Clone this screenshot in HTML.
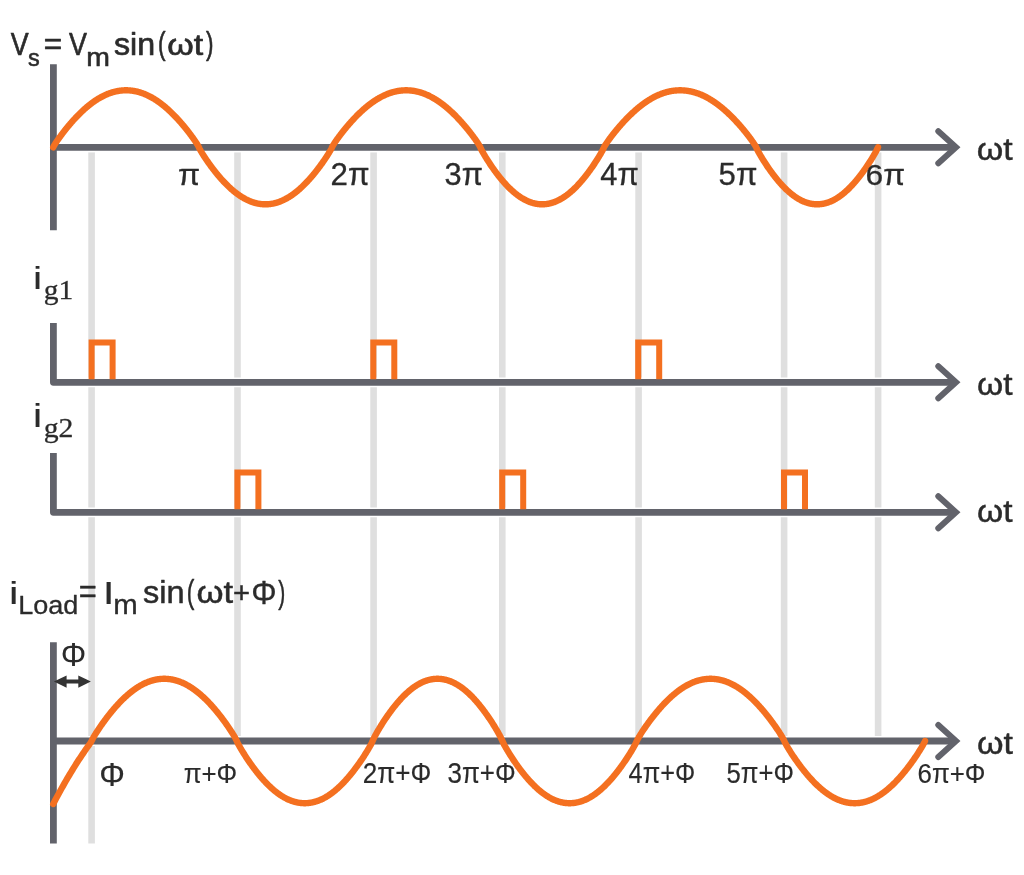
<!DOCTYPE html><html><head><meta charset="utf-8"><style>html,body{margin:0;padding:0;background:#fff;width:1024px;height:875px;overflow:hidden}svg{display:block;will-change:transform}</style></head><body>
<svg width="1024" height="875" viewBox="0 0 1024 875">
<rect width="1024" height="875" fill="#fff"/>
<g stroke="#dfdfdf" stroke-width="6.6"><line x1="91.6" y1="152.2" x2="91.6" y2="843.5"/><line x1="237.5" y1="152.2" x2="237.5" y2="741"/><line x1="373.6" y1="152.2" x2="373.6" y2="741"/><line x1="502.3" y1="152.2" x2="502.3" y2="741"/><line x1="638.6" y1="152.2" x2="638.6" y2="741"/><line x1="784.1" y1="152.2" x2="784.1" y2="741"/><line x1="878.1" y1="152.2" x2="878.1" y2="741"/></g>
<path d="M53.4,64.2 V230.3 M53.4,147.3 H956 M53.4,323 V382.3 H956 M53.4,453 V512.3 H956 M53.4,642.2 V843.5 M53.4,741.0 H956" fill="none" stroke="#fff" stroke-width="9.8" stroke-linejoin="miter"/>
<path d="M53.4,64.2 V230.3 M53.4,147.3 H956 M53.4,323 V382.3 H956 M53.4,453 V512.3 H956 M53.4,642.2 V843.5 M53.4,741.0 H956" fill="none" stroke="#62636b" stroke-width="6.8" stroke-linejoin="round"/>
<path d="M938.3,131.3 L956.0,147.3 L938.3,163.3 M938.3,366.3 L956.0,382.3 L938.3,398.3 M938.3,496.29999999999995 L956.0,512.3 L938.3,528.3 M938.3,725.0 L956.0,741.0 L938.3,757.0" fill="none" stroke="#62636b" stroke-width="6.0" stroke-linecap="round" stroke-linejoin="miter"/>
<path d="M53.20,147.30 L53.70,146.29 L54.20,145.42 L54.70,144.59 L55.20,143.79 L55.69,143.01 L56.19,142.24 L56.69,141.49 L57.19,140.76 L57.69,140.03 L58.19,139.31 L58.69,138.60 L59.19,137.90 L59.69,137.20 L60.19,136.51 L60.68,135.83 L61.18,135.15 L61.68,134.48 L62.18,133.82 L62.68,133.16 L63.18,132.51 L63.68,131.86 L64.18,131.22 L64.68,130.58 L65.18,129.95 L65.67,129.32 L66.17,128.70 L66.67,128.08 L67.17,127.47 L67.67,126.86 L68.17,126.26 L68.67,125.66 L69.17,125.07 L69.67,124.48 L70.17,123.89 L70.66,123.31 L71.16,122.74 L71.66,122.17 L72.16,121.60 L72.66,121.04 L73.16,120.48 L73.66,119.93 L74.16,119.38 L74.66,118.84 L75.15,118.30 L75.65,117.77 L76.15,117.24 L76.65,116.72 L77.15,116.20 L77.65,115.68 L78.15,115.17 L78.65,114.67 L79.15,114.17 L79.65,113.67 L80.14,113.18 L80.64,112.69 L81.14,112.21 L81.64,111.74 L82.14,111.27 L82.64,110.80 L83.14,110.34 L83.64,109.88 L84.14,109.43 L84.64,108.98 L85.13,108.54 L85.63,108.10 L86.13,107.67 L86.63,107.24 L87.13,106.82 L87.63,106.41 L88.13,105.99 L88.63,105.59 L89.13,105.18 L89.62,104.79 L90.12,104.40 L90.62,104.01 L91.12,103.63 L91.62,103.25 L92.12,102.88 L92.62,102.52 L93.12,102.16 L93.62,101.80 L94.12,101.45 L94.61,101.11 L95.11,100.77 L95.61,100.43 L96.11,100.10 L96.61,99.78 L97.11,99.46 L97.61,99.15 L98.11,98.84 L98.61,98.54 L99.11,98.24 L99.60,97.95 L100.10,97.66 L100.60,97.38 L101.10,97.11 L101.60,96.84 L102.10,96.57 L102.60,96.31 L103.10,96.06 L103.60,95.81 L104.10,95.57 L104.59,95.33 L105.09,95.10 L105.59,94.87 L106.09,94.65 L106.59,94.44 L107.09,94.23 L107.59,94.02 L108.09,93.82 L108.59,93.63 L109.08,93.44 L109.58,93.26 L110.08,93.08 L110.58,92.91 L111.08,92.74 L111.58,92.58 L112.08,92.43 L112.58,92.28 L113.08,92.13 L113.58,91.99 L114.07,91.86 L114.57,91.73 L115.07,91.61 L115.57,91.49 L116.07,91.38 L116.57,91.28 L117.07,91.17 L117.57,91.08 L118.07,90.99 L118.57,90.91 L119.06,90.83 L119.56,90.76 L120.06,90.69 L120.56,90.63 L121.06,90.57 L121.56,90.52 L122.06,90.47 L122.56,90.43 L123.06,90.40 L123.56,90.37 L124.05,90.34 L124.55,90.32 L125.05,90.31 L125.55,90.30 L126.05,90.30 L126.55,90.30 L127.05,90.31 L127.55,90.32 L128.05,90.34 L128.54,90.37 L129.04,90.40 L129.54,90.43 L130.04,90.47 L130.54,90.52 L131.04,90.57 L131.54,90.63 L132.04,90.69 L132.54,90.76 L133.04,90.83 L133.53,90.91 L134.03,90.99 L134.53,91.08 L135.03,91.17 L135.53,91.28 L136.03,91.38 L136.53,91.49 L137.03,91.61 L137.53,91.73 L138.03,91.86 L138.52,91.99 L139.02,92.13 L139.52,92.28 L140.02,92.43 L140.52,92.58 L141.02,92.74 L141.52,92.91 L142.02,93.08 L142.52,93.26 L143.02,93.44 L143.51,93.63 L144.01,93.82 L144.51,94.02 L145.01,94.23 L145.51,94.44 L146.01,94.65 L146.51,94.87 L147.01,95.10 L147.51,95.33 L148.00,95.57 L148.50,95.81 L149.00,96.06 L149.50,96.31 L150.00,96.57 L150.50,96.84 L151.00,97.11 L151.50,97.38 L152.00,97.66 L152.50,97.95 L152.99,98.24 L153.49,98.54 L153.99,98.84 L154.49,99.15 L154.99,99.46 L155.49,99.78 L155.99,100.10 L156.49,100.43 L156.99,100.77 L157.49,101.11 L157.98,101.45 L158.48,101.80 L158.98,102.16 L159.48,102.52 L159.98,102.88 L160.48,103.25 L160.98,103.63 L161.48,104.01 L161.98,104.40 L162.47,104.79 L162.97,105.18 L163.47,105.59 L163.97,105.99 L164.47,106.41 L164.97,106.82 L165.47,107.24 L165.97,107.67 L166.47,108.10 L166.97,108.54 L167.46,108.98 L167.96,109.43 L168.46,109.88 L168.96,110.34 L169.46,110.80 L169.96,111.27 L170.46,111.74 L170.96,112.21 L171.46,112.69 L171.96,113.18 L172.45,113.67 L172.95,114.17 L173.45,114.67 L173.95,115.17 L174.45,115.68 L174.95,116.20 L175.45,116.72 L175.95,117.24 L176.45,117.77 L176.95,118.30 L177.44,118.84 L177.94,119.38 L178.44,119.93 L178.94,120.48 L179.44,121.04 L179.94,121.60 L180.44,122.17 L180.94,122.74 L181.44,123.31 L181.93,123.89 L182.43,124.48 L182.93,125.07 L183.43,125.66 L183.93,126.26 L184.43,126.86 L184.93,127.47 L185.43,128.08 L185.93,128.70 L186.43,129.32 L186.92,129.95 L187.42,130.58 L187.92,131.22 L188.42,131.86 L188.92,132.51 L189.42,133.16 L189.92,133.82 L190.42,134.48 L190.92,135.15 L191.42,135.83 L191.91,136.51 L192.41,137.20 L192.91,137.90 L193.41,138.60 L193.91,139.31 L194.41,140.03 L194.91,140.76 L195.41,141.49 L195.91,142.24 L196.41,143.01 L196.90,143.79 L197.40,144.59 L197.90,145.42 L198.40,146.29 L198.90,147.30 L199.40,148.39 L199.90,149.34 L200.40,150.24 L200.89,151.11 L201.39,151.95 L201.89,152.78 L202.39,153.59 L202.89,154.39 L203.39,155.18 L203.89,155.96 L204.38,156.73 L204.88,157.49 L205.38,158.24 L205.88,158.98 L206.38,159.72 L206.88,160.45 L207.37,161.17 L207.87,161.89 L208.37,162.60 L208.87,163.30 L209.37,164.00 L209.87,164.69 L210.37,165.37 L210.86,166.05 L211.36,166.73 L211.86,167.40 L212.36,168.06 L212.86,168.71 L213.36,169.37 L213.86,170.01 L214.35,170.65 L214.85,171.29 L215.35,171.91 L215.85,172.54 L216.35,173.16 L216.85,173.77 L217.34,174.37 L217.84,174.98 L218.34,175.57 L218.84,176.16 L219.34,176.75 L219.84,177.32 L220.34,177.90 L220.83,178.47 L221.33,179.03 L221.83,179.58 L222.33,180.13 L222.83,180.68 L223.33,181.22 L223.83,181.75 L224.32,182.28 L224.82,182.80 L225.32,183.32 L225.82,183.83 L226.32,184.33 L226.82,184.83 L227.31,185.32 L227.81,185.81 L228.31,186.29 L228.81,186.76 L229.31,187.23 L229.81,187.70 L230.31,188.15 L230.80,188.60 L231.30,189.05 L231.80,189.49 L232.30,189.92 L232.80,190.35 L233.30,190.77 L233.80,191.18 L234.29,191.59 L234.79,191.99 L235.29,192.38 L235.79,192.77 L236.29,193.16 L236.79,193.53 L237.28,193.90 L237.78,194.27 L238.28,194.63 L238.78,194.98 L239.28,195.32 L239.78,195.66 L240.28,195.99 L240.77,196.32 L241.27,196.64 L241.77,196.95 L242.27,197.26 L242.77,197.56 L243.27,197.85 L243.77,198.14 L244.26,198.42 L244.76,198.69 L245.26,198.96 L245.76,199.22 L246.26,199.48 L246.76,199.73 L247.25,199.97 L247.75,200.20 L248.25,200.43 L248.75,200.65 L249.25,200.87 L249.75,201.08 L250.25,201.28 L250.74,201.47 L251.24,201.66 L251.74,201.85 L252.24,202.02 L252.74,202.19 L253.24,202.35 L253.74,202.51 L254.23,202.66 L254.73,202.80 L255.23,202.94 L255.73,203.07 L256.23,203.19 L256.73,203.31 L257.22,203.42 L257.72,203.52 L258.22,203.62 L258.72,203.71 L259.22,203.80 L259.72,203.87 L260.22,203.95 L260.71,204.01 L261.21,204.07 L261.71,204.12 L262.21,204.16 L262.71,204.20 L263.21,204.24 L263.71,204.26 L264.20,204.28 L264.70,204.29 L265.20,204.30 L265.70,204.30 L266.20,204.29 L266.70,204.28 L267.19,204.26 L267.69,204.24 L268.19,204.20 L268.69,204.16 L269.19,204.12 L269.69,204.07 L270.19,204.01 L270.68,203.95 L271.18,203.87 L271.68,203.80 L272.18,203.71 L272.68,203.62 L273.18,203.52 L273.68,203.42 L274.17,203.31 L274.67,203.19 L275.17,203.07 L275.67,202.94 L276.17,202.80 L276.67,202.66 L277.16,202.51 L277.66,202.35 L278.16,202.19 L278.66,202.02 L279.16,201.85 L279.66,201.66 L280.16,201.47 L280.65,201.28 L281.15,201.08 L281.65,200.87 L282.15,200.65 L282.65,200.43 L283.15,200.20 L283.65,199.97 L284.14,199.73 L284.64,199.48 L285.14,199.22 L285.64,198.96 L286.14,198.69 L286.64,198.42 L287.13,198.14 L287.63,197.85 L288.13,197.56 L288.63,197.26 L289.13,196.95 L289.63,196.64 L290.13,196.32 L290.62,195.99 L291.12,195.66 L291.62,195.32 L292.12,194.98 L292.62,194.63 L293.12,194.27 L293.62,193.90 L294.11,193.53 L294.61,193.16 L295.11,192.77 L295.61,192.38 L296.11,191.99 L296.61,191.59 L297.10,191.18 L297.60,190.77 L298.10,190.35 L298.60,189.92 L299.10,189.49 L299.60,189.05 L300.10,188.60 L300.59,188.15 L301.09,187.70 L301.59,187.23 L302.09,186.76 L302.59,186.29 L303.09,185.81 L303.59,185.32 L304.08,184.83 L304.58,184.33 L305.08,183.83 L305.58,183.32 L306.08,182.80 L306.58,182.28 L307.07,181.75 L307.57,181.22 L308.07,180.68 L308.57,180.13 L309.07,179.58 L309.57,179.03 L310.07,178.47 L310.56,177.90 L311.06,177.32 L311.56,176.75 L312.06,176.16 L312.56,175.57 L313.06,174.98 L313.56,174.37 L314.05,173.77 L314.55,173.16 L315.05,172.54 L315.55,171.91 L316.05,171.29 L316.55,170.65 L317.04,170.01 L317.54,169.37 L318.04,168.71 L318.54,168.06 L319.04,167.40 L319.54,166.73 L320.04,166.05 L320.53,165.37 L321.03,164.69 L321.53,164.00 L322.03,163.30 L322.53,162.60 L323.03,161.89 L323.53,161.17 L324.02,160.45 L324.52,159.72 L325.02,158.98 L325.52,158.24 L326.02,157.49 L326.52,156.73 L327.01,155.96 L327.51,155.18 L328.01,154.39 L328.51,153.59 L329.01,152.78 L329.51,151.95 L330.01,151.11 L330.50,150.24 L331.00,149.34 L331.50,148.39 L332.00,147.30 L332.50,146.31 L333.00,145.45 L333.50,144.63 L334.00,143.84 L334.50,143.07 L335.00,142.32 L335.50,141.58 L335.99,140.85 L336.49,140.14 L336.99,139.43 L337.49,138.73 L337.99,138.04 L338.49,137.35 L338.99,136.67 L339.49,136.00 L339.99,135.34 L340.49,134.68 L340.99,134.02 L341.49,133.37 L341.99,132.73 L342.49,132.09 L342.99,131.46 L343.48,130.83 L343.98,130.20 L344.48,129.59 L344.98,128.97 L345.48,128.36 L345.98,127.76 L346.48,127.16 L346.98,126.56 L347.48,125.97 L347.98,125.38 L348.48,124.80 L348.98,124.23 L349.48,123.65 L349.98,123.08 L350.48,122.52 L350.97,121.96 L351.47,121.41 L351.97,120.86 L352.47,120.31 L352.97,119.77 L353.47,119.23 L353.97,118.70 L354.47,118.17 L354.97,117.65 L355.47,117.13 L355.97,116.62 L356.47,116.11 L356.97,115.60 L357.47,115.10 L357.96,114.60 L358.46,114.11 L358.96,113.63 L359.46,113.14 L359.96,112.67 L360.46,112.19 L360.96,111.73 L361.46,111.26 L361.96,110.80 L362.46,110.35 L362.96,109.90 L363.46,109.46 L363.96,109.02 L364.46,108.58 L364.96,108.15 L365.45,107.73 L365.95,107.31 L366.45,106.89 L366.95,106.48 L367.45,106.07 L367.95,105.67 L368.45,105.28 L368.95,104.89 L369.45,104.50 L369.95,104.12 L370.45,103.74 L370.95,103.37 L371.45,103.00 L371.95,102.64 L372.45,102.29 L372.94,101.94 L373.44,101.59 L373.94,101.25 L374.44,100.91 L374.94,100.58 L375.44,100.26 L375.94,99.93 L376.44,99.62 L376.94,99.31 L377.44,99.00 L377.94,98.70 L378.44,98.41 L378.94,98.12 L379.44,97.83 L379.94,97.56 L380.43,97.28 L380.93,97.01 L381.43,96.75 L381.93,96.49 L382.43,96.24 L382.93,95.99 L383.43,95.75 L383.93,95.51 L384.43,95.28 L384.93,95.05 L385.43,94.83 L385.93,94.61 L386.43,94.40 L386.93,94.19 L387.43,93.99 L387.92,93.80 L388.42,93.61 L388.92,93.42 L389.42,93.24 L389.92,93.07 L390.42,92.90 L390.92,92.74 L391.42,92.58 L391.92,92.43 L392.42,92.28 L392.92,92.14 L393.42,92.00 L393.92,91.87 L394.42,91.74 L394.92,91.62 L395.41,91.51 L395.91,91.40 L396.41,91.29 L396.91,91.19 L397.41,91.10 L397.91,91.01 L398.41,90.93 L398.91,90.85 L399.41,90.77 L399.91,90.71 L400.41,90.64 L400.91,90.59 L401.41,90.53 L401.91,90.49 L402.41,90.45 L402.90,90.41 L403.40,90.38 L403.90,90.35 L404.40,90.33 L404.90,90.32 L405.40,90.31 L405.90,90.30 L406.40,90.30 L406.90,90.31 L407.40,90.32 L407.90,90.33 L408.40,90.35 L408.90,90.38 L409.40,90.41 L409.89,90.45 L410.39,90.49 L410.89,90.53 L411.39,90.59 L411.89,90.64 L412.39,90.71 L412.89,90.77 L413.39,90.85 L413.89,90.93 L414.39,91.01 L414.89,91.10 L415.39,91.19 L415.89,91.29 L416.39,91.40 L416.89,91.51 L417.38,91.62 L417.88,91.74 L418.38,91.87 L418.88,92.00 L419.38,92.14 L419.88,92.28 L420.38,92.43 L420.88,92.58 L421.38,92.74 L421.88,92.90 L422.38,93.07 L422.88,93.24 L423.38,93.42 L423.88,93.61 L424.38,93.80 L424.87,93.99 L425.37,94.19 L425.87,94.40 L426.37,94.61 L426.87,94.83 L427.37,95.05 L427.87,95.28 L428.37,95.51 L428.87,95.75 L429.37,95.99 L429.87,96.24 L430.37,96.49 L430.87,96.75 L431.37,97.01 L431.87,97.28 L432.36,97.56 L432.86,97.83 L433.36,98.12 L433.86,98.41 L434.36,98.70 L434.86,99.00 L435.36,99.31 L435.86,99.62 L436.36,99.93 L436.86,100.26 L437.36,100.58 L437.86,100.91 L438.36,101.25 L438.86,101.59 L439.36,101.94 L439.85,102.29 L440.35,102.64 L440.85,103.00 L441.35,103.37 L441.85,103.74 L442.35,104.12 L442.85,104.50 L443.35,104.89 L443.85,105.28 L444.35,105.67 L444.85,106.07 L445.35,106.48 L445.85,106.89 L446.35,107.31 L446.85,107.73 L447.34,108.15 L447.84,108.58 L448.34,109.02 L448.84,109.46 L449.34,109.90 L449.84,110.35 L450.34,110.80 L450.84,111.26 L451.34,111.73 L451.84,112.19 L452.34,112.67 L452.84,113.14 L453.34,113.63 L453.84,114.11 L454.34,114.60 L454.83,115.10 L455.33,115.60 L455.83,116.11 L456.33,116.62 L456.83,117.13 L457.33,117.65 L457.83,118.17 L458.33,118.70 L458.83,119.23 L459.33,119.77 L459.83,120.31 L460.33,120.86 L460.83,121.41 L461.33,121.96 L461.82,122.52 L462.32,123.08 L462.82,123.65 L463.32,124.23 L463.82,124.80 L464.32,125.38 L464.82,125.97 L465.32,126.56 L465.82,127.16 L466.32,127.76 L466.82,128.36 L467.32,128.97 L467.82,129.59 L468.32,130.20 L468.82,130.83 L469.31,131.46 L469.81,132.09 L470.31,132.73 L470.81,133.37 L471.31,134.02 L471.81,134.68 L472.31,135.34 L472.81,136.00 L473.31,136.67 L473.81,137.35 L474.31,138.04 L474.81,138.73 L475.31,139.43 L475.81,140.14 L476.31,140.85 L476.80,141.58 L477.30,142.32 L477.80,143.07 L478.30,143.84 L478.80,144.63 L479.30,145.45 L479.80,146.31 L480.30,147.30 L480.80,148.47 L481.30,149.48 L481.80,150.44 L482.30,151.37 L482.79,152.27 L483.29,153.15 L483.79,154.02 L484.29,154.88 L484.79,155.72 L485.29,156.55 L485.79,157.37 L486.29,158.18 L486.78,158.98 L487.28,159.77 L487.78,160.56 L488.28,161.33 L488.78,162.10 L489.28,162.86 L489.78,163.62 L490.28,164.37 L490.77,165.11 L491.27,165.84 L491.77,166.57 L492.27,167.29 L492.77,168.00 L493.27,168.71 L493.77,169.41 L494.27,170.10 L494.76,170.79 L495.26,171.47 L495.76,172.15 L496.26,172.82 L496.76,173.48 L497.26,174.14 L497.76,174.78 L498.26,175.43 L498.76,176.06 L499.25,176.69 L499.75,177.32 L500.25,177.93 L500.75,178.54 L501.25,179.15 L501.75,179.75 L502.25,180.34 L502.75,180.92 L503.24,181.50 L503.74,182.07 L504.24,182.63 L504.74,183.19 L505.24,183.74 L505.74,184.28 L506.24,184.82 L506.74,185.35 L507.23,185.88 L507.73,186.39 L508.23,186.90 L508.73,187.40 L509.23,187.90 L509.73,188.39 L510.23,188.87 L510.73,189.34 L511.23,189.81 L511.72,190.27 L512.22,190.73 L512.72,191.17 L513.22,191.61 L513.72,192.04 L514.22,192.47 L514.72,192.88 L515.22,193.29 L515.71,193.70 L516.21,194.09 L516.71,194.48 L517.21,194.86 L517.71,195.24 L518.21,195.60 L518.71,195.96 L519.21,196.31 L519.70,196.65 L520.20,196.99 L520.70,197.32 L521.20,197.64 L521.70,197.96 L522.20,198.26 L522.70,198.56 L523.20,198.85 L523.69,199.14 L524.19,199.41 L524.69,199.68 L525.19,199.94 L525.69,200.20 L526.19,200.44 L526.69,200.68 L527.19,200.91 L527.69,201.13 L528.18,201.35 L528.68,201.56 L529.18,201.76 L529.68,201.95 L530.18,202.14 L530.68,202.31 L531.18,202.48 L531.68,202.64 L532.17,202.80 L532.67,202.95 L533.17,203.09 L533.67,203.22 L534.17,203.34 L534.67,203.46 L535.17,203.57 L535.67,203.67 L536.16,203.76 L536.66,203.85 L537.16,203.93 L537.66,204.00 L538.16,204.06 L538.66,204.12 L539.16,204.17 L539.66,204.21 L540.15,204.24 L540.65,204.27 L541.15,204.29 L541.65,204.30 L542.15,204.30 L542.65,204.30 L543.15,204.29 L543.65,204.27 L544.15,204.24 L544.64,204.21 L545.14,204.17 L545.64,204.12 L546.14,204.06 L546.64,204.00 L547.14,203.93 L547.64,203.85 L548.14,203.76 L548.63,203.67 L549.13,203.57 L549.63,203.46 L550.13,203.34 L550.63,203.22 L551.13,203.09 L551.63,202.95 L552.13,202.80 L552.62,202.64 L553.12,202.48 L553.62,202.31 L554.12,202.14 L554.62,201.95 L555.12,201.76 L555.62,201.56 L556.12,201.35 L556.61,201.13 L557.11,200.91 L557.61,200.68 L558.11,200.44 L558.61,200.20 L559.11,199.94 L559.61,199.68 L560.11,199.41 L560.61,199.14 L561.10,198.85 L561.60,198.56 L562.10,198.26 L562.60,197.96 L563.10,197.64 L563.60,197.32 L564.10,196.99 L564.60,196.65 L565.09,196.31 L565.59,195.96 L566.09,195.60 L566.59,195.24 L567.09,194.86 L567.59,194.48 L568.09,194.09 L568.59,193.70 L569.08,193.29 L569.58,192.88 L570.08,192.47 L570.58,192.04 L571.08,191.61 L571.58,191.17 L572.08,190.73 L572.58,190.27 L573.08,189.81 L573.57,189.34 L574.07,188.87 L574.57,188.39 L575.07,187.90 L575.57,187.40 L576.07,186.90 L576.57,186.39 L577.07,185.88 L577.56,185.35 L578.06,184.82 L578.56,184.28 L579.06,183.74 L579.56,183.19 L580.06,182.63 L580.56,182.07 L581.06,181.50 L581.55,180.92 L582.05,180.34 L582.55,179.75 L583.05,179.15 L583.55,178.54 L584.05,177.93 L584.55,177.32 L585.05,176.69 L585.54,176.06 L586.04,175.43 L586.54,174.78 L587.04,174.14 L587.54,173.48 L588.04,172.82 L588.54,172.15 L589.04,171.47 L589.54,170.79 L590.03,170.10 L590.53,169.41 L591.03,168.71 L591.53,168.00 L592.03,167.29 L592.53,166.57 L593.03,165.84 L593.53,165.11 L594.02,164.37 L594.52,163.62 L595.02,162.86 L595.52,162.10 L596.02,161.33 L596.52,160.56 L597.02,159.77 L597.52,158.98 L598.01,158.18 L598.51,157.37 L599.01,156.55 L599.51,155.72 L600.01,154.88 L600.51,154.02 L601.01,153.15 L601.51,152.27 L602.00,151.37 L602.50,150.44 L603.00,149.48 L603.50,148.47 L604.00,147.30 L604.50,146.33 L605.00,145.49 L605.50,144.69 L606.00,143.92 L606.50,143.17 L606.99,142.44 L607.49,141.72 L607.99,141.01 L608.49,140.31 L608.99,139.61 L609.49,138.93 L609.99,138.25 L610.49,137.58 L610.99,136.92 L611.49,136.26 L611.98,135.61 L612.48,134.97 L612.98,134.33 L613.48,133.69 L613.98,133.06 L614.48,132.44 L614.98,131.82 L615.48,131.21 L615.98,130.60 L616.48,129.99 L616.97,129.39 L617.47,128.79 L617.97,128.20 L618.47,127.61 L618.97,127.03 L619.47,126.45 L619.97,125.88 L620.47,125.31 L620.97,124.74 L621.47,124.18 L621.96,123.62 L622.46,123.07 L622.96,122.52 L623.46,121.97 L623.96,121.43 L624.46,120.90 L624.96,120.37 L625.46,119.84 L625.96,119.31 L626.46,118.80 L626.95,118.28 L627.45,117.77 L627.95,117.26 L628.45,116.76 L628.95,116.26 L629.45,115.77 L629.95,115.28 L630.45,114.80 L630.95,114.32 L631.45,113.84 L631.94,113.37 L632.44,112.90 L632.94,112.44 L633.44,111.98 L633.94,111.53 L634.44,111.08 L634.94,110.63 L635.44,110.19 L635.94,109.76 L636.44,109.33 L636.94,108.90 L637.43,108.48 L637.93,108.06 L638.43,107.65 L638.93,107.24 L639.43,106.83 L639.93,106.43 L640.43,106.04 L640.93,105.65 L641.43,105.26 L641.93,104.88 L642.42,104.51 L642.92,104.14 L643.42,103.77 L643.92,103.41 L644.42,103.05 L644.92,102.70 L645.42,102.35 L645.92,102.01 L646.42,101.67 L646.92,101.33 L647.41,101.01 L647.91,100.68 L648.41,100.36 L648.91,100.05 L649.41,99.74 L649.91,99.44 L650.41,99.14 L650.91,98.84 L651.41,98.55 L651.91,98.27 L652.40,97.99 L652.90,97.71 L653.40,97.44 L653.90,97.18 L654.40,96.92 L654.90,96.66 L655.40,96.41 L655.90,96.17 L656.40,95.93 L656.90,95.69 L657.39,95.46 L657.89,95.24 L658.39,95.02 L658.89,94.80 L659.39,94.59 L659.89,94.39 L660.39,94.19 L660.89,93.99 L661.39,93.80 L661.89,93.62 L662.38,93.44 L662.88,93.26 L663.38,93.09 L663.88,92.93 L664.38,92.77 L664.88,92.61 L665.38,92.46 L665.88,92.32 L666.38,92.18 L666.88,92.04 L667.38,91.91 L667.87,91.79 L668.37,91.67 L668.87,91.55 L669.37,91.45 L669.87,91.34 L670.37,91.24 L670.87,91.15 L671.37,91.06 L671.87,90.97 L672.37,90.89 L672.86,90.82 L673.36,90.75 L673.86,90.69 L674.36,90.63 L674.86,90.57 L675.36,90.52 L675.86,90.48 L676.36,90.44 L676.86,90.40 L677.36,90.37 L677.85,90.35 L678.35,90.33 L678.85,90.32 L679.35,90.31 L679.85,90.30 L680.35,90.30 L680.85,90.31 L681.35,90.32 L681.85,90.33 L682.35,90.35 L682.84,90.37 L683.34,90.40 L683.84,90.44 L684.34,90.48 L684.84,90.52 L685.34,90.57 L685.84,90.63 L686.34,90.69 L686.84,90.75 L687.34,90.82 L687.83,90.89 L688.33,90.97 L688.83,91.06 L689.33,91.15 L689.83,91.24 L690.33,91.34 L690.83,91.45 L691.33,91.55 L691.83,91.67 L692.33,91.79 L692.82,91.91 L693.32,92.04 L693.82,92.18 L694.32,92.32 L694.82,92.46 L695.32,92.61 L695.82,92.77 L696.32,92.93 L696.82,93.09 L697.32,93.26 L697.82,93.44 L698.31,93.62 L698.81,93.80 L699.31,93.99 L699.81,94.19 L700.31,94.39 L700.81,94.59 L701.31,94.80 L701.81,95.02 L702.31,95.24 L702.81,95.46 L703.30,95.69 L703.80,95.93 L704.30,96.17 L704.80,96.41 L705.30,96.66 L705.80,96.92 L706.30,97.18 L706.80,97.44 L707.30,97.71 L707.80,97.99 L708.29,98.27 L708.79,98.55 L709.29,98.84 L709.79,99.14 L710.29,99.44 L710.79,99.74 L711.29,100.05 L711.79,100.36 L712.29,100.68 L712.79,101.01 L713.28,101.33 L713.78,101.67 L714.28,102.01 L714.78,102.35 L715.28,102.70 L715.78,103.05 L716.28,103.41 L716.78,103.77 L717.28,104.14 L717.78,104.51 L718.27,104.88 L718.77,105.26 L719.27,105.65 L719.77,106.04 L720.27,106.43 L720.77,106.83 L721.27,107.24 L721.77,107.65 L722.27,108.06 L722.77,108.48 L723.26,108.90 L723.76,109.33 L724.26,109.76 L724.76,110.19 L725.26,110.63 L725.76,111.08 L726.26,111.53 L726.76,111.98 L727.26,112.44 L727.76,112.90 L728.26,113.37 L728.75,113.84 L729.25,114.32 L729.75,114.80 L730.25,115.28 L730.75,115.77 L731.25,116.26 L731.75,116.76 L732.25,117.26 L732.75,117.77 L733.25,118.28 L733.74,118.80 L734.24,119.31 L734.74,119.84 L735.24,120.37 L735.74,120.90 L736.24,121.43 L736.74,121.97 L737.24,122.52 L737.74,123.07 L738.24,123.62 L738.73,124.18 L739.23,124.74 L739.73,125.31 L740.23,125.88 L740.73,126.45 L741.23,127.03 L741.73,127.61 L742.23,128.20 L742.73,128.79 L743.23,129.39 L743.72,129.99 L744.22,130.60 L744.72,131.21 L745.22,131.82 L745.72,132.44 L746.22,133.06 L746.72,133.69 L747.22,134.33 L747.72,134.97 L748.22,135.61 L748.71,136.26 L749.21,136.92 L749.71,137.58 L750.21,138.25 L750.71,138.93 L751.21,139.61 L751.71,140.31 L752.21,141.01 L752.71,141.72 L753.21,142.44 L753.70,143.17 L754.20,143.92 L754.70,144.69 L755.20,145.49 L755.70,146.33 L756.20,147.30 L756.70,148.49 L757.20,149.51 L757.70,150.49 L758.20,151.43 L758.70,152.34 L759.20,153.24 L759.69,154.12 L760.19,154.99 L760.69,155.84 L761.19,156.68 L761.69,157.51 L762.19,158.34 L762.69,159.15 L763.19,159.95 L763.69,160.75 L764.19,161.54 L764.69,162.31 L765.19,163.09 L765.68,163.85 L766.18,164.61 L766.68,165.36 L767.18,166.10 L767.68,166.84 L768.18,167.57 L768.68,168.29 L769.18,169.01 L769.68,169.72 L770.18,170.42 L770.68,171.12 L771.18,171.81 L771.67,172.49 L772.17,173.17 L772.67,173.84 L773.17,174.50 L773.67,175.15 L774.17,175.80 L774.67,176.45 L775.17,177.08 L775.67,177.71 L776.17,178.34 L776.67,178.95 L777.17,179.56 L777.66,180.16 L778.16,180.76 L778.66,181.35 L779.16,181.93 L779.66,182.50 L780.16,183.07 L780.66,183.63 L781.16,184.19 L781.66,184.73 L782.16,185.27 L782.66,185.81 L783.16,186.33 L783.65,186.85 L784.15,187.36 L784.65,187.87 L785.15,188.36 L785.65,188.85 L786.15,189.34 L786.65,189.81 L787.15,190.28 L787.65,190.74 L788.15,191.19 L788.65,191.64 L789.15,192.08 L789.65,192.51 L790.14,192.93 L790.64,193.35 L791.14,193.76 L791.64,194.16 L792.14,194.55 L792.64,194.94 L793.14,195.31 L793.64,195.68 L794.14,196.05 L794.64,196.40 L795.14,196.75 L795.64,197.09 L796.13,197.42 L796.63,197.75 L797.13,198.06 L797.63,198.37 L798.13,198.67 L798.63,198.96 L799.13,199.25 L799.63,199.53 L800.13,199.80 L800.63,200.06 L801.13,200.31 L801.63,200.56 L802.12,200.80 L802.62,201.03 L803.12,201.25 L803.62,201.47 L804.12,201.67 L804.62,201.87 L805.12,202.06 L805.62,202.25 L806.12,202.42 L806.62,202.59 L807.12,202.75 L807.62,202.90 L808.11,203.05 L808.61,203.18 L809.11,203.31 L809.61,203.43 L810.11,203.54 L810.61,203.65 L811.11,203.74 L811.61,203.83 L812.11,203.91 L812.61,203.99 L813.11,204.05 L813.61,204.11 L814.10,204.16 L814.60,204.20 L815.10,204.24 L815.60,204.27 L816.10,204.28 L816.60,204.30 L817.10,204.30 L817.60,204.30 L818.10,204.28 L818.60,204.27 L819.10,204.24 L819.60,204.20 L820.10,204.16 L820.59,204.11 L821.09,204.05 L821.59,203.99 L822.09,203.91 L822.59,203.83 L823.09,203.74 L823.59,203.65 L824.09,203.54 L824.59,203.43 L825.09,203.31 L825.59,203.18 L826.09,203.05 L826.58,202.90 L827.08,202.75 L827.58,202.59 L828.08,202.42 L828.58,202.25 L829.08,202.06 L829.58,201.87 L830.08,201.67 L830.58,201.47 L831.08,201.25 L831.58,201.03 L832.08,200.80 L832.57,200.56 L833.07,200.31 L833.57,200.06 L834.07,199.80 L834.57,199.53 L835.07,199.25 L835.57,198.96 L836.07,198.67 L836.57,198.37 L837.07,198.06 L837.57,197.75 L838.07,197.42 L838.56,197.09 L839.06,196.75 L839.56,196.40 L840.06,196.05 L840.56,195.68 L841.06,195.31 L841.56,194.94 L842.06,194.55 L842.56,194.16 L843.06,193.76 L843.56,193.35 L844.06,192.93 L844.55,192.51 L845.05,192.08 L845.55,191.64 L846.05,191.19 L846.55,190.74 L847.05,190.28 L847.55,189.81 L848.05,189.34 L848.55,188.85 L849.05,188.36 L849.55,187.87 L850.05,187.36 L850.55,186.85 L851.04,186.33 L851.54,185.81 L852.04,185.27 L852.54,184.73 L853.04,184.19 L853.54,183.63 L854.04,183.07 L854.54,182.50 L855.04,181.93 L855.54,181.35 L856.04,180.76 L856.54,180.16 L857.03,179.56 L857.53,178.95 L858.03,178.34 L858.53,177.71 L859.03,177.08 L859.53,176.45 L860.03,175.80 L860.53,175.15 L861.03,174.50 L861.53,173.84 L862.03,173.17 L862.53,172.49 L863.02,171.81 L863.52,171.12 L864.02,170.42 L864.52,169.72 L865.02,169.01 L865.52,168.29 L866.02,167.57 L866.52,166.84 L867.02,166.10 L867.52,165.36 L868.02,164.61 L868.52,163.85 L869.01,163.09 L869.51,162.31 L870.01,161.54 L870.51,160.75 L871.01,159.95 L871.51,159.15 L872.01,158.34 L872.51,157.51 L873.01,156.68 L873.51,155.84 L874.01,154.99 L874.51,154.12 L875.00,153.24 L875.50,152.34 L876.00,151.43 L876.50,150.49 L877.00,149.51 L877.50,148.49 L878.00,147.30" fill="none" stroke="#f47020" stroke-width="6.4" stroke-linecap="round" stroke-linejoin="round"/>
<path d="M53.20,803.98 L54.16,802.16 L55.12,800.34 L56.08,798.54 L57.04,796.75 L58.00,794.98 L58.96,793.22 L59.92,791.47 L60.88,789.74 L61.84,788.02 L62.80,786.31 L63.76,784.62 L64.72,782.94 L65.68,781.27 L66.64,779.62 L67.60,777.98 L68.56,776.35 L69.52,774.74 L70.48,773.14 L71.44,771.56 L72.40,769.99 L73.36,768.43 L74.32,766.88 L75.28,765.35 L76.24,763.83 L77.20,762.33 L78.16,760.84 L79.12,759.36 L80.08,757.90 L81.04,756.45 L82.00,755.01 L82.96,753.59 L83.92,752.18 L84.88,750.78 L85.84,749.40 L86.80,748.03 L87.76,746.67 L88.72,745.33 L89.68,744.00 L90.64,742.68 L91.60,741.00 L92.10,739.90 L92.60,738.94 L93.10,738.03 L93.60,737.15 L94.09,736.30 L94.59,735.47 L95.09,734.64 L95.59,733.84 L96.09,733.04 L96.59,732.25 L97.09,731.47 L97.59,730.71 L98.09,729.94 L98.59,729.19 L99.08,728.44 L99.58,727.71 L100.08,726.97 L100.58,726.25 L101.08,725.53 L101.58,724.81 L102.08,724.10 L102.58,723.40 L103.08,722.70 L103.58,722.01 L104.07,721.32 L104.57,720.64 L105.07,719.97 L105.57,719.30 L106.07,718.63 L106.57,717.97 L107.07,717.32 L107.57,716.67 L108.07,716.02 L108.56,715.38 L109.06,714.75 L109.56,714.12 L110.06,713.49 L110.56,712.88 L111.06,712.26 L111.56,711.65 L112.06,711.05 L112.56,710.45 L113.06,709.86 L113.55,709.27 L114.05,708.69 L114.55,708.11 L115.05,707.53 L115.55,706.97 L116.05,706.40 L116.55,705.85 L117.05,705.29 L117.55,704.75 L118.05,704.21 L118.54,703.67 L119.04,703.14 L119.54,702.61 L120.04,702.09 L120.54,701.58 L121.04,701.07 L121.54,700.56 L122.04,700.06 L122.54,699.57 L123.04,699.08 L123.53,698.60 L124.03,698.12 L124.53,697.65 L125.03,697.18 L125.53,696.72 L126.03,696.27 L126.53,695.82 L127.03,695.37 L127.53,694.94 L128.02,694.50 L128.52,694.07 L129.02,693.65 L129.52,693.24 L130.02,692.83 L130.52,692.42 L131.02,692.02 L131.52,691.63 L132.02,691.24 L132.52,690.86 L133.01,690.49 L133.51,690.12 L134.01,689.75 L134.51,689.39 L135.01,689.04 L135.51,688.69 L136.01,688.35 L136.51,688.02 L137.01,687.69 L137.51,687.36 L138.00,687.05 L138.50,686.74 L139.00,686.43 L139.50,686.13 L140.00,685.84 L140.50,685.55 L141.00,685.27 L141.50,684.99 L142.00,684.72 L142.49,684.46 L142.99,684.20 L143.49,683.95 L143.99,683.70 L144.49,683.46 L144.99,683.23 L145.49,683.00 L145.99,682.78 L146.49,682.56 L146.99,682.35 L147.48,682.15 L147.98,681.95 L148.48,681.76 L148.98,681.57 L149.48,681.39 L149.98,681.22 L150.48,681.05 L150.98,680.89 L151.48,680.74 L151.98,680.59 L152.47,680.44 L152.97,680.30 L153.47,680.17 L153.97,680.05 L154.47,679.93 L154.97,679.82 L155.47,679.71 L155.97,679.61 L156.47,679.51 L156.96,679.42 L157.46,679.34 L157.96,679.26 L158.46,679.19 L158.96,679.13 L159.46,679.07 L159.96,679.01 L160.46,678.97 L160.96,678.92 L161.46,678.89 L161.95,678.86 L162.45,678.84 L162.95,678.82 L163.45,678.81 L163.95,678.80 L164.45,678.80 L164.95,678.81 L165.45,678.82 L165.95,678.84 L166.45,678.86 L166.94,678.89 L167.44,678.92 L167.94,678.97 L168.44,679.01 L168.94,679.07 L169.44,679.13 L169.94,679.19 L170.44,679.26 L170.94,679.34 L171.44,679.42 L171.93,679.51 L172.43,679.61 L172.93,679.71 L173.43,679.82 L173.93,679.93 L174.43,680.05 L174.93,680.17 L175.43,680.30 L175.93,680.44 L176.42,680.59 L176.92,680.74 L177.42,680.89 L177.92,681.05 L178.42,681.22 L178.92,681.39 L179.42,681.57 L179.92,681.76 L180.42,681.95 L180.92,682.15 L181.41,682.35 L181.91,682.56 L182.41,682.78 L182.91,683.00 L183.41,683.23 L183.91,683.46 L184.41,683.70 L184.91,683.95 L185.41,684.20 L185.91,684.46 L186.40,684.72 L186.90,684.99 L187.40,685.27 L187.90,685.55 L188.40,685.84 L188.90,686.13 L189.40,686.43 L189.90,686.74 L190.40,687.05 L190.89,687.36 L191.39,687.69 L191.89,688.02 L192.39,688.35 L192.89,688.69 L193.39,689.04 L193.89,689.39 L194.39,689.75 L194.89,690.12 L195.39,690.49 L195.88,690.86 L196.38,691.24 L196.88,691.63 L197.38,692.02 L197.88,692.42 L198.38,692.83 L198.88,693.24 L199.38,693.65 L199.88,694.07 L200.38,694.50 L200.87,694.94 L201.37,695.37 L201.87,695.82 L202.37,696.27 L202.87,696.72 L203.37,697.18 L203.87,697.65 L204.37,698.12 L204.87,698.60 L205.36,699.08 L205.86,699.57 L206.36,700.06 L206.86,700.56 L207.36,701.07 L207.86,701.58 L208.36,702.09 L208.86,702.61 L209.36,703.14 L209.86,703.67 L210.35,704.21 L210.85,704.75 L211.35,705.29 L211.85,705.85 L212.35,706.40 L212.85,706.97 L213.35,707.53 L213.85,708.11 L214.35,708.69 L214.85,709.27 L215.34,709.86 L215.84,710.45 L216.34,711.05 L216.84,711.65 L217.34,712.26 L217.84,712.88 L218.34,713.49 L218.84,714.12 L219.34,714.75 L219.84,715.38 L220.33,716.02 L220.83,716.67 L221.33,717.32 L221.83,717.97 L222.33,718.63 L222.83,719.30 L223.33,719.97 L223.83,720.64 L224.33,721.32 L224.82,722.01 L225.32,722.70 L225.82,723.40 L226.32,724.10 L226.82,724.81 L227.32,725.53 L227.82,726.25 L228.32,726.97 L228.82,727.71 L229.32,728.44 L229.81,729.19 L230.31,729.94 L230.81,730.71 L231.31,731.47 L231.81,732.25 L232.31,733.04 L232.81,733.84 L233.31,734.64 L233.81,735.47 L234.31,736.30 L234.80,737.15 L235.30,738.03 L235.80,738.94 L236.30,739.90 L236.80,741.00 L237.30,742.17 L237.80,743.19 L238.30,744.15 L238.80,745.09 L239.30,745.99 L239.80,746.88 L240.29,747.75 L240.79,748.61 L241.29,749.46 L241.79,750.29 L242.29,751.12 L242.79,751.93 L243.29,752.74 L243.79,753.54 L244.29,754.33 L244.79,755.11 L245.29,755.89 L245.79,756.66 L246.29,757.42 L246.79,758.18 L247.28,758.93 L247.78,759.67 L248.28,760.41 L248.78,761.14 L249.28,761.86 L249.78,762.58 L250.28,763.29 L250.78,764.00 L251.28,764.70 L251.78,765.40 L252.28,766.08 L252.78,766.77 L253.28,767.44 L253.78,768.12 L254.27,768.78 L254.77,769.44 L255.27,770.10 L255.77,770.74 L256.27,771.39 L256.77,772.02 L257.27,772.65 L257.77,773.28 L258.27,773.90 L258.77,774.51 L259.27,775.11 L259.77,775.72 L260.27,776.31 L260.76,776.90 L261.26,777.48 L261.76,778.06 L262.26,778.63 L262.76,779.20 L263.26,779.75 L263.76,780.31 L264.26,780.85 L264.76,781.39 L265.26,781.93 L265.76,782.46 L266.26,782.98 L266.76,783.49 L267.26,784.00 L267.75,784.51 L268.25,785.00 L268.75,785.49 L269.25,785.98 L269.75,786.45 L270.25,786.93 L270.75,787.39 L271.25,787.85 L271.75,788.30 L272.25,788.75 L272.75,789.18 L273.25,789.62 L273.75,790.04 L274.24,790.46 L274.74,790.88 L275.24,791.28 L275.74,791.68 L276.24,792.07 L276.74,792.46 L277.24,792.84 L277.74,793.21 L278.24,793.58 L278.74,793.94 L279.24,794.29 L279.74,794.64 L280.24,794.98 L280.74,795.31 L281.23,795.64 L281.73,795.95 L282.23,796.27 L282.73,796.57 L283.23,796.87 L283.73,797.16 L284.23,797.45 L284.73,797.73 L285.23,798.00 L285.73,798.26 L286.23,798.52 L286.73,798.77 L287.23,799.01 L287.73,799.25 L288.22,799.48 L288.72,799.70 L289.22,799.92 L289.72,800.13 L290.22,800.33 L290.72,800.53 L291.22,800.71 L291.72,800.90 L292.22,801.07 L292.72,801.24 L293.22,801.40 L293.72,801.55 L294.22,801.70 L294.71,801.84 L295.21,801.97 L295.71,802.10 L296.21,802.22 L296.71,802.33 L297.21,802.44 L297.71,802.54 L298.21,802.63 L298.71,802.71 L299.21,802.79 L299.71,802.86 L300.21,802.93 L300.71,802.98 L301.21,803.03 L301.70,803.08 L302.20,803.12 L302.70,803.15 L303.20,803.17 L303.70,803.19 L304.20,803.20 L304.70,803.20 L305.20,803.20 L305.70,803.19 L306.20,803.17 L306.70,803.15 L307.20,803.12 L307.70,803.08 L308.19,803.03 L308.69,802.98 L309.19,802.93 L309.69,802.86 L310.19,802.79 L310.69,802.71 L311.19,802.63 L311.69,802.54 L312.19,802.44 L312.69,802.33 L313.19,802.22 L313.69,802.10 L314.19,801.97 L314.69,801.84 L315.18,801.70 L315.68,801.55 L316.18,801.40 L316.68,801.24 L317.18,801.07 L317.68,800.90 L318.18,800.71 L318.68,800.53 L319.18,800.33 L319.68,800.13 L320.18,799.92 L320.68,799.70 L321.18,799.48 L321.68,799.25 L322.17,799.01 L322.67,798.77 L323.17,798.52 L323.67,798.26 L324.17,798.00 L324.67,797.73 L325.17,797.45 L325.67,797.16 L326.17,796.87 L326.67,796.57 L327.17,796.27 L327.67,795.95 L328.17,795.64 L328.66,795.31 L329.16,794.98 L329.66,794.64 L330.16,794.29 L330.66,793.94 L331.16,793.58 L331.66,793.21 L332.16,792.84 L332.66,792.46 L333.16,792.07 L333.66,791.68 L334.16,791.28 L334.66,790.88 L335.16,790.46 L335.65,790.04 L336.15,789.62 L336.65,789.18 L337.15,788.75 L337.65,788.30 L338.15,787.85 L338.65,787.39 L339.15,786.93 L339.65,786.45 L340.15,785.98 L340.65,785.49 L341.15,785.00 L341.65,784.51 L342.14,784.00 L342.64,783.49 L343.14,782.98 L343.64,782.46 L344.14,781.93 L344.64,781.39 L345.14,780.85 L345.64,780.31 L346.14,779.75 L346.64,779.20 L347.14,778.63 L347.64,778.06 L348.14,777.48 L348.64,776.90 L349.13,776.31 L349.63,775.72 L350.13,775.11 L350.63,774.51 L351.13,773.90 L351.63,773.28 L352.13,772.65 L352.63,772.02 L353.13,771.39 L353.63,770.74 L354.13,770.10 L354.63,769.44 L355.13,768.78 L355.62,768.12 L356.12,767.44 L356.62,766.77 L357.12,766.08 L357.62,765.40 L358.12,764.70 L358.62,764.00 L359.12,763.29 L359.62,762.58 L360.12,761.86 L360.62,761.14 L361.12,760.41 L361.62,759.67 L362.12,758.93 L362.61,758.18 L363.11,757.42 L363.61,756.66 L364.11,755.89 L364.61,755.11 L365.11,754.33 L365.61,753.54 L366.11,752.74 L366.61,751.93 L367.11,751.12 L367.61,750.29 L368.11,749.46 L368.61,748.61 L369.11,747.75 L369.60,746.88 L370.10,745.99 L370.60,745.09 L371.10,744.15 L371.60,743.19 L372.10,742.17 L372.60,741.00 L373.10,739.78 L373.60,738.72 L374.10,737.71 L374.60,736.75 L375.10,735.80 L375.60,734.88 L376.09,733.97 L376.59,733.08 L377.09,732.20 L377.59,731.33 L378.09,730.47 L378.59,729.62 L379.09,728.78 L379.59,727.95 L380.09,727.13 L380.59,726.31 L381.09,725.51 L381.59,724.71 L382.09,723.91 L382.58,723.13 L383.08,722.35 L383.58,721.58 L384.08,720.82 L384.58,720.06 L385.08,719.31 L385.58,718.56 L386.08,717.83 L386.58,717.10 L387.08,716.37 L387.58,715.65 L388.08,714.94 L388.58,714.23 L389.07,713.54 L389.57,712.84 L390.07,712.16 L390.57,711.48 L391.07,710.80 L391.57,710.13 L392.07,709.47 L392.57,708.82 L393.07,708.17 L393.57,707.53 L394.07,706.89 L394.57,706.27 L395.07,705.64 L395.56,705.03 L396.06,704.42 L396.56,703.82 L397.06,703.22 L397.56,702.63 L398.06,702.05 L398.56,701.47 L399.06,700.91 L399.56,700.34 L400.06,699.79 L400.56,699.24 L401.06,698.70 L401.56,698.16 L402.05,697.63 L402.55,697.11 L403.05,696.60 L403.55,696.09 L404.05,695.59 L404.55,695.10 L405.05,694.61 L405.55,694.13 L406.05,693.66 L406.55,693.19 L407.05,692.73 L407.55,692.28 L408.05,691.84 L408.54,691.40 L409.04,690.97 L409.54,690.55 L410.04,690.14 L410.54,689.73 L411.04,689.33 L411.54,688.94 L412.04,688.55 L412.54,688.17 L413.04,687.80 L413.54,687.44 L414.04,687.08 L414.54,686.73 L415.03,686.39 L415.53,686.06 L416.03,685.73 L416.53,685.41 L417.03,685.10 L417.53,684.79 L418.03,684.50 L418.53,684.21 L419.03,683.93 L419.53,683.65 L420.03,683.38 L420.53,683.13 L421.03,682.87 L421.52,682.63 L422.02,682.39 L422.52,682.16 L423.02,681.94 L423.52,681.73 L424.02,681.52 L424.52,681.32 L425.02,681.13 L425.52,680.95 L426.02,680.77 L426.52,680.60 L427.02,680.44 L427.52,680.29 L428.01,680.14 L428.51,680.01 L429.01,679.87 L429.51,679.75 L430.01,679.64 L430.51,679.53 L431.01,679.43 L431.51,679.33 L432.01,679.25 L432.51,679.17 L433.01,679.10 L433.51,679.04 L434.01,678.98 L434.50,678.93 L435.00,678.89 L435.50,678.86 L436.00,678.83 L436.50,678.81 L437.00,678.80 L437.50,678.80 L438.00,678.80 L438.50,678.81 L439.00,678.83 L439.50,678.86 L440.00,678.89 L440.50,678.93 L440.99,678.98 L441.49,679.04 L441.99,679.10 L442.49,679.17 L442.99,679.25 L443.49,679.33 L443.99,679.43 L444.49,679.53 L444.99,679.64 L445.49,679.75 L445.99,679.87 L446.49,680.01 L446.99,680.14 L447.48,680.29 L447.98,680.44 L448.48,680.60 L448.98,680.77 L449.48,680.95 L449.98,681.13 L450.48,681.32 L450.98,681.52 L451.48,681.73 L451.98,681.94 L452.48,682.16 L452.98,682.39 L453.48,682.63 L453.97,682.87 L454.47,683.13 L454.97,683.38 L455.47,683.65 L455.97,683.93 L456.47,684.21 L456.97,684.50 L457.47,684.79 L457.97,685.10 L458.47,685.41 L458.97,685.73 L459.47,686.06 L459.97,686.39 L460.46,686.73 L460.96,687.08 L461.46,687.44 L461.96,687.80 L462.46,688.17 L462.96,688.55 L463.46,688.94 L463.96,689.33 L464.46,689.73 L464.96,690.14 L465.46,690.55 L465.96,690.97 L466.46,691.40 L466.95,691.84 L467.45,692.28 L467.95,692.73 L468.45,693.19 L468.95,693.66 L469.45,694.13 L469.95,694.61 L470.45,695.10 L470.95,695.59 L471.45,696.09 L471.95,696.60 L472.45,697.11 L472.95,697.63 L473.44,698.16 L473.94,698.70 L474.44,699.24 L474.94,699.79 L475.44,700.34 L475.94,700.91 L476.44,701.47 L476.94,702.05 L477.44,702.63 L477.94,703.22 L478.44,703.82 L478.94,704.42 L479.44,705.03 L479.93,705.64 L480.43,706.27 L480.93,706.89 L481.43,707.53 L481.93,708.17 L482.43,708.82 L482.93,709.47 L483.43,710.13 L483.93,710.80 L484.43,711.48 L484.93,712.16 L485.43,712.84 L485.93,713.54 L486.42,714.23 L486.92,714.94 L487.42,715.65 L487.92,716.37 L488.42,717.10 L488.92,717.83 L489.42,718.56 L489.92,719.31 L490.42,720.06 L490.92,720.82 L491.42,721.58 L491.92,722.35 L492.42,723.13 L492.91,723.91 L493.41,724.71 L493.91,725.51 L494.41,726.31 L494.91,727.13 L495.41,727.95 L495.91,728.78 L496.41,729.62 L496.91,730.47 L497.41,731.33 L497.91,732.20 L498.41,733.08 L498.91,733.97 L499.40,734.88 L499.90,735.80 L500.40,736.75 L500.90,737.71 L501.40,738.72 L501.90,739.78 L502.40,741.00 L502.90,742.19 L503.40,743.21 L503.90,744.19 L504.40,745.13 L504.90,746.04 L505.40,746.94 L505.90,747.82 L506.40,748.69 L506.90,749.54 L507.40,750.38 L507.90,751.22 L508.40,752.04 L508.90,752.86 L509.39,753.66 L509.89,754.46 L510.39,755.25 L510.89,756.04 L511.39,756.81 L511.89,757.58 L512.39,758.35 L512.89,759.10 L513.39,759.85 L513.89,760.60 L514.39,761.33 L514.89,762.06 L515.39,762.79 L515.89,763.51 L516.39,764.22 L516.89,764.93 L517.39,765.63 L517.89,766.32 L518.39,767.01 L518.89,767.69 L519.39,768.37 L519.89,769.04 L520.39,769.70 L520.89,770.36 L521.39,771.02 L521.89,771.66 L522.39,772.30 L522.88,772.94 L523.38,773.57 L523.88,774.19 L524.38,774.81 L524.88,775.42 L525.38,776.02 L525.88,776.62 L526.38,777.21 L526.88,777.80 L527.38,778.38 L527.88,778.95 L528.38,779.52 L528.88,780.08 L529.38,780.64 L529.88,781.19 L530.38,781.73 L530.88,782.26 L531.38,782.79 L531.88,783.32 L532.38,783.83 L532.88,784.35 L533.38,784.85 L533.88,785.35 L534.38,785.84 L534.88,786.32 L535.38,786.80 L535.88,787.27 L536.37,787.74 L536.87,788.20 L537.37,788.65 L537.87,789.09 L538.37,789.53 L538.87,789.96 L539.37,790.39 L539.87,790.81 L540.37,791.22 L540.87,791.63 L541.37,792.02 L541.87,792.41 L542.37,792.80 L542.87,793.18 L543.37,793.55 L543.87,793.91 L544.37,794.27 L544.87,794.62 L545.37,794.96 L545.87,795.30 L546.37,795.63 L546.87,795.95 L547.37,796.27 L547.87,796.58 L548.37,796.88 L548.87,797.17 L549.37,797.46 L549.86,797.74 L550.36,798.02 L550.86,798.28 L551.36,798.54 L551.86,798.79 L552.36,799.04 L552.86,799.28 L553.36,799.51 L553.86,799.74 L554.36,799.95 L554.86,800.16 L555.36,800.37 L555.86,800.56 L556.36,800.75 L556.86,800.93 L557.36,801.11 L557.86,801.28 L558.36,801.44 L558.86,801.59 L559.36,801.74 L559.86,801.88 L560.36,802.01 L560.86,802.14 L561.36,802.25 L561.86,802.37 L562.36,802.47 L562.86,802.57 L563.35,802.66 L563.85,802.74 L564.35,802.82 L564.85,802.89 L565.35,802.95 L565.85,803.01 L566.35,803.05 L566.85,803.10 L567.35,803.13 L567.85,803.16 L568.35,803.18 L568.85,803.19 L569.35,803.20 L569.85,803.20 L570.35,803.19 L570.85,803.18 L571.35,803.16 L571.85,803.13 L572.35,803.10 L572.85,803.05 L573.35,803.01 L573.85,802.95 L574.35,802.89 L574.85,802.82 L575.35,802.74 L575.85,802.66 L576.34,802.57 L576.84,802.47 L577.34,802.37 L577.84,802.25 L578.34,802.14 L578.84,802.01 L579.34,801.88 L579.84,801.74 L580.34,801.59 L580.84,801.44 L581.34,801.28 L581.84,801.11 L582.34,800.93 L582.84,800.75 L583.34,800.56 L583.84,800.37 L584.34,800.16 L584.84,799.95 L585.34,799.74 L585.84,799.51 L586.34,799.28 L586.84,799.04 L587.34,798.79 L587.84,798.54 L588.34,798.28 L588.84,798.02 L589.34,797.74 L589.83,797.46 L590.33,797.17 L590.83,796.88 L591.33,796.58 L591.83,796.27 L592.33,795.95 L592.83,795.63 L593.33,795.30 L593.83,794.96 L594.33,794.62 L594.83,794.27 L595.33,793.91 L595.83,793.55 L596.33,793.18 L596.83,792.80 L597.33,792.41 L597.83,792.02 L598.33,791.63 L598.83,791.22 L599.33,790.81 L599.83,790.39 L600.33,789.96 L600.83,789.53 L601.33,789.09 L601.83,788.65 L602.33,788.20 L602.83,787.74 L603.32,787.27 L603.82,786.80 L604.32,786.32 L604.82,785.84 L605.32,785.35 L605.82,784.85 L606.32,784.35 L606.82,783.83 L607.32,783.32 L607.82,782.79 L608.32,782.26 L608.82,781.73 L609.32,781.19 L609.82,780.64 L610.32,780.08 L610.82,779.52 L611.32,778.95 L611.82,778.38 L612.32,777.80 L612.82,777.21 L613.32,776.62 L613.82,776.02 L614.32,775.42 L614.82,774.81 L615.32,774.19 L615.82,773.57 L616.32,772.94 L616.81,772.30 L617.31,771.66 L617.81,771.02 L618.31,770.36 L618.81,769.70 L619.31,769.04 L619.81,768.37 L620.31,767.69 L620.81,767.01 L621.31,766.32 L621.81,765.63 L622.31,764.93 L622.81,764.22 L623.31,763.51 L623.81,762.79 L624.31,762.06 L624.81,761.33 L625.31,760.60 L625.81,759.85 L626.31,759.10 L626.81,758.35 L627.31,757.58 L627.81,756.81 L628.31,756.04 L628.81,755.25 L629.31,754.46 L629.81,753.66 L630.30,752.86 L630.80,752.04 L631.30,751.22 L631.80,750.38 L632.30,749.54 L632.80,748.69 L633.30,747.82 L633.80,746.94 L634.30,746.04 L634.80,745.13 L635.30,744.19 L635.80,743.21 L636.30,742.19 L636.80,741.00 L637.30,739.91 L637.80,738.96 L638.30,738.07 L638.80,737.20 L639.30,736.36 L639.80,735.53 L640.30,734.72 L640.80,733.92 L641.30,733.14 L641.80,732.36 L642.30,731.59 L642.80,730.83 L643.30,730.08 L643.80,729.33 L644.30,728.60 L644.80,727.87 L645.30,727.14 L645.80,726.42 L646.30,725.71 L646.80,725.00 L647.30,724.30 L647.80,723.61 L648.30,722.92 L648.80,722.23 L649.30,721.56 L649.80,720.88 L650.30,720.21 L650.80,719.55 L651.30,718.89 L651.80,718.24 L652.30,717.59 L652.80,716.95 L653.30,716.31 L653.80,715.68 L654.30,715.05 L654.80,714.43 L655.30,713.81 L655.80,713.19 L656.30,712.59 L656.80,711.98 L657.30,711.38 L657.80,710.79 L658.30,710.20 L658.80,709.62 L659.30,709.04 L659.80,708.47 L660.30,707.90 L660.80,707.34 L661.30,706.78 L661.80,706.22 L662.30,705.68 L662.80,705.13 L663.30,704.59 L663.80,704.06 L664.30,703.53 L664.80,703.01 L665.30,702.49 L665.80,701.98 L666.30,701.47 L666.80,700.97 L667.30,700.48 L667.80,699.98 L668.30,699.50 L668.80,699.02 L669.30,698.54 L669.80,698.07 L670.30,697.61 L670.80,697.15 L671.30,696.69 L671.80,696.24 L672.30,695.80 L672.80,695.36 L673.30,694.93 L673.80,694.50 L674.30,694.08 L674.80,693.67 L675.30,693.26 L675.80,692.85 L676.30,692.45 L676.80,692.06 L677.30,691.67 L677.80,691.29 L678.30,690.91 L678.80,690.54 L679.30,690.17 L679.80,689.81 L680.30,689.46 L680.80,689.11 L681.30,688.76 L681.80,688.43 L682.30,688.09 L682.80,687.77 L683.30,687.45 L683.80,687.13 L684.30,686.82 L684.80,686.52 L685.30,686.22 L685.80,685.93 L686.30,685.65 L686.80,685.37 L687.30,685.09 L687.80,684.82 L688.30,684.56 L688.80,684.30 L689.30,684.05 L689.80,683.81 L690.30,683.57 L690.80,683.34 L691.30,683.11 L691.80,682.89 L692.30,682.67 L692.80,682.46 L693.30,682.26 L693.80,682.06 L694.30,681.87 L694.80,681.68 L695.30,681.50 L695.80,681.32 L696.30,681.15 L696.80,680.99 L697.30,680.83 L697.80,680.68 L698.30,680.54 L698.80,680.40 L699.30,680.26 L699.80,680.14 L700.30,680.01 L700.80,679.90 L701.30,679.79 L701.80,679.68 L702.30,679.59 L702.80,679.49 L703.30,679.41 L703.80,679.32 L704.30,679.25 L704.80,679.18 L705.30,679.12 L705.80,679.06 L706.30,679.01 L706.80,678.96 L707.30,678.92 L707.80,678.89 L708.30,678.86 L708.80,678.84 L709.30,678.82 L709.80,678.81 L710.30,678.80 L710.80,678.80 L711.30,678.81 L711.80,678.82 L712.30,678.84 L712.80,678.86 L713.30,678.89 L713.80,678.92 L714.30,678.96 L714.80,679.01 L715.30,679.06 L715.80,679.12 L716.30,679.18 L716.80,679.25 L717.30,679.32 L717.80,679.41 L718.30,679.49 L718.80,679.59 L719.30,679.68 L719.80,679.79 L720.30,679.90 L720.80,680.01 L721.30,680.14 L721.80,680.26 L722.30,680.40 L722.80,680.54 L723.30,680.68 L723.80,680.83 L724.30,680.99 L724.80,681.15 L725.30,681.32 L725.80,681.50 L726.30,681.68 L726.80,681.87 L727.30,682.06 L727.80,682.26 L728.30,682.46 L728.80,682.67 L729.30,682.89 L729.80,683.11 L730.30,683.34 L730.80,683.57 L731.30,683.81 L731.80,684.05 L732.30,684.30 L732.80,684.56 L733.30,684.82 L733.80,685.09 L734.30,685.37 L734.80,685.65 L735.30,685.93 L735.80,686.22 L736.30,686.52 L736.80,686.82 L737.30,687.13 L737.80,687.45 L738.30,687.77 L738.80,688.09 L739.30,688.43 L739.80,688.76 L740.30,689.11 L740.80,689.46 L741.30,689.81 L741.80,690.17 L742.30,690.54 L742.80,690.91 L743.30,691.29 L743.80,691.67 L744.30,692.06 L744.80,692.45 L745.30,692.85 L745.80,693.26 L746.30,693.67 L746.80,694.08 L747.30,694.50 L747.80,694.93 L748.30,695.36 L748.80,695.80 L749.30,696.24 L749.80,696.69 L750.30,697.15 L750.80,697.61 L751.30,698.07 L751.80,698.54 L752.30,699.02 L752.80,699.50 L753.30,699.98 L753.80,700.48 L754.30,700.97 L754.80,701.47 L755.30,701.98 L755.80,702.49 L756.30,703.01 L756.80,703.53 L757.30,704.06 L757.80,704.59 L758.30,705.13 L758.80,705.68 L759.30,706.22 L759.80,706.78 L760.30,707.34 L760.80,707.90 L761.30,708.47 L761.80,709.04 L762.30,709.62 L762.80,710.20 L763.30,710.79 L763.80,711.38 L764.30,711.98 L764.80,712.59 L765.30,713.19 L765.80,713.81 L766.30,714.43 L766.80,715.05 L767.30,715.68 L767.80,716.31 L768.30,716.95 L768.80,717.59 L769.30,718.24 L769.80,718.89 L770.30,719.55 L770.80,720.21 L771.30,720.88 L771.80,721.56 L772.30,722.23 L772.80,722.92 L773.30,723.61 L773.80,724.30 L774.30,725.00 L774.80,725.71 L775.30,726.42 L775.80,727.14 L776.30,727.87 L776.80,728.60 L777.30,729.33 L777.80,730.08 L778.30,730.83 L778.80,731.59 L779.30,732.36 L779.80,733.14 L780.30,733.92 L780.80,734.72 L781.30,735.53 L781.80,736.36 L782.30,737.20 L782.80,738.07 L783.30,738.96 L783.80,739.91 L784.30,741.00 L784.80,742.14 L785.30,743.12 L785.80,744.05 L786.30,744.96 L786.79,745.83 L787.29,746.69 L787.79,747.54 L788.29,748.37 L788.79,749.19 L789.29,750.00 L789.79,750.80 L790.29,751.59 L790.79,752.37 L791.29,753.14 L791.78,753.91 L792.28,754.67 L792.78,755.42 L793.28,756.17 L793.78,756.91 L794.28,757.64 L794.78,758.37 L795.28,759.09 L795.78,759.81 L796.27,760.52 L796.77,761.22 L797.27,761.92 L797.77,762.61 L798.27,763.30 L798.77,763.98 L799.27,764.66 L799.77,765.33 L800.27,765.99 L800.76,766.65 L801.26,767.31 L801.76,767.95 L802.26,768.60 L802.76,769.24 L803.26,769.87 L803.76,770.50 L804.26,771.12 L804.76,771.73 L805.26,772.34 L805.75,772.95 L806.25,773.55 L806.75,774.14 L807.25,774.73 L807.75,775.32 L808.25,775.89 L808.75,776.47 L809.25,777.03 L809.75,777.59 L810.24,778.15 L810.74,778.70 L811.24,779.24 L811.74,779.78 L812.24,780.31 L812.74,780.84 L813.24,781.36 L813.74,781.88 L814.24,782.39 L814.74,782.89 L815.23,783.39 L815.73,783.88 L816.23,784.37 L816.73,784.85 L817.23,785.33 L817.73,785.80 L818.23,786.26 L818.73,786.72 L819.23,787.17 L819.72,787.61 L820.22,788.05 L820.72,788.48 L821.22,788.91 L821.72,789.33 L822.22,789.75 L822.72,790.16 L823.22,790.56 L823.72,790.96 L824.21,791.35 L824.71,791.73 L825.21,792.11 L825.71,792.48 L826.21,792.85 L826.71,793.21 L827.21,793.56 L827.71,793.91 L828.21,794.25 L828.71,794.58 L829.20,794.91 L829.70,795.23 L830.20,795.55 L830.70,795.86 L831.20,796.16 L831.70,796.46 L832.20,796.75 L832.70,797.04 L833.20,797.31 L833.69,797.58 L834.19,797.85 L834.69,798.11 L835.19,798.36 L835.69,798.61 L836.19,798.85 L836.69,799.08 L837.19,799.31 L837.69,799.53 L838.19,799.74 L838.68,799.95 L839.18,800.15 L839.68,800.34 L840.18,800.53 L840.68,800.71 L841.18,800.89 L841.68,801.06 L842.18,801.22 L842.68,801.38 L843.17,801.52 L843.67,801.67 L844.17,801.80 L844.67,801.93 L845.17,802.06 L845.67,802.18 L846.17,802.29 L846.67,802.39 L847.17,802.49 L847.66,802.58 L848.16,802.67 L848.66,802.75 L849.16,802.82 L849.66,802.89 L850.16,802.95 L850.66,803.00 L851.16,803.05 L851.66,803.09 L852.16,803.12 L852.65,803.15 L853.15,803.17 L853.65,803.19 L854.15,803.20 L854.65,803.20 L855.15,803.20 L855.65,803.19 L856.15,803.17 L856.65,803.15 L857.14,803.12 L857.64,803.09 L858.14,803.05 L858.64,803.00 L859.14,802.95 L859.64,802.89 L860.14,802.82 L860.64,802.75 L861.14,802.67 L861.64,802.58 L862.13,802.49 L862.63,802.39 L863.13,802.29 L863.63,802.18 L864.13,802.06 L864.63,801.93 L865.13,801.80 L865.63,801.67 L866.13,801.52 L866.62,801.38 L867.12,801.22 L867.62,801.06 L868.12,800.89 L868.62,800.71 L869.12,800.53 L869.62,800.34 L870.12,800.15 L870.62,799.95 L871.11,799.74 L871.61,799.53 L872.11,799.31 L872.61,799.08 L873.11,798.85 L873.61,798.61 L874.11,798.36 L874.61,798.11 L875.11,797.85 L875.61,797.58 L876.10,797.31 L876.60,797.04 L877.10,796.75 L877.60,796.46 L878.10,796.16 L878.60,795.86 L879.10,795.55 L879.60,795.23 L880.10,794.91 L880.59,794.58 L881.09,794.25 L881.59,793.91 L882.09,793.56 L882.59,793.21 L883.09,792.85 L883.59,792.48 L884.09,792.11 L884.59,791.73 L885.09,791.35 L885.58,790.96 L886.08,790.56 L886.58,790.16 L887.08,789.75 L887.58,789.33 L888.08,788.91 L888.58,788.48 L889.08,788.05 L889.58,787.61 L890.07,787.17 L890.57,786.72 L891.07,786.26 L891.57,785.80 L892.07,785.33 L892.57,784.85 L893.07,784.37 L893.57,783.88 L894.07,783.39 L894.56,782.89 L895.06,782.39 L895.56,781.88 L896.06,781.36 L896.56,780.84 L897.06,780.31 L897.56,779.78 L898.06,779.24 L898.56,778.70 L899.06,778.15 L899.55,777.59 L900.05,777.03 L900.55,776.47 L901.05,775.89 L901.55,775.32 L902.05,774.73 L902.55,774.14 L903.05,773.55 L903.55,772.95 L904.04,772.34 L904.54,771.73 L905.04,771.12 L905.54,770.50 L906.04,769.87 L906.54,769.24 L907.04,768.60 L907.54,767.95 L908.04,767.31 L908.54,766.65 L909.03,765.99 L909.53,765.33 L910.03,764.66 L910.53,763.98 L911.03,763.30 L911.53,762.61 L912.03,761.92 L912.53,761.22 L913.03,760.52 L913.52,759.81 L914.02,759.09 L914.52,758.37 L915.02,757.64 L915.52,756.91 L916.02,756.17 L916.52,755.42 L917.02,754.67 L917.52,753.91 L918.01,753.14 L918.51,752.37 L919.01,751.59 L919.51,750.80 L920.01,750.00 L920.51,749.19 L921.01,748.37 L921.51,747.54 L922.01,746.69 L922.51,745.83 L923.00,744.96 L923.50,744.05 L924.00,743.12 L924.50,742.14 L925.00,741.00" fill="none" stroke="#f47020" stroke-width="6.4" stroke-linecap="round" stroke-linejoin="round"/>
<path d="M91.6,379.3 V342.5 H112.6 V379.3 M373.3,379.3 V342.5 H394.3 V379.3 M638.2,379.3 V342.5 H659.2 V379.3 M237.4,509.3 V472.6 H258.4 V509.3 M502.2,509.3 V472.6 H523.2 V509.3 M784.0,509.3 V472.6 H805.0 V509.3" fill="none" stroke="#f47020" stroke-width="6" stroke-linejoin="miter"/>
<path d="M53.9,681.6 L66.6,675.4 L66.6,679.6 L78.3,679.6 L78.3,675.4 L90.9,681.6 L78.3,687.8 L78.3,683.6 L66.6,683.6 L66.6,687.8 Z" fill="#333"/>
<g><text transform="translate(10.73,55.29) scale(0.8638,1)" font-family="Liberation Sans" font-size="30.99" fill="#2b2b2b" stroke="#2b2b2b" stroke-width="0.68" stroke-linejoin="round">V</text><text transform="translate(28.05,65.90) scale(0.9475,1)" font-family="Liberation Sans" font-size="24.78" fill="#2b2b2b" stroke="#2b2b2b" stroke-width="0.55" stroke-linejoin="round">s</text><text transform="translate(43.74,54.14) scale(1.0862,1)" font-family="Liberation Sans" font-size="28.99" fill="#2b2b2b" stroke="#2b2b2b" stroke-width="0.64" stroke-linejoin="round">=</text><text transform="translate(69.03,55.29) scale(0.8685,1)" font-family="Liberation Sans" font-size="30.99" fill="#2b2b2b" stroke="#2b2b2b" stroke-width="0.68" stroke-linejoin="round">V</text><text transform="translate(86.14,66.15) scale(1.1366,1)" font-family="Liberation Sans" font-size="25.00" fill="#2b2b2b" stroke="#2b2b2b" stroke-width="0.55" stroke-linejoin="round">m</text><text transform="translate(113.92,55.47) scale(1.0198,1)" font-family="Liberation Sans" font-size="31.52" fill="#2b2b2b" stroke="#2b2b2b" stroke-width="0.69" stroke-linejoin="round">sin</text><text transform="translate(157.96,54.41) scale(0.7269,1)" font-family="Liberation Sans" font-size="31.31" fill="#2b2b2b" stroke="#2b2b2b" stroke-width="0.69" stroke-linejoin="round">(</text><text transform="translate(167.28,55.49) scale(1.1195,1)" font-family="Liberation Sans" font-size="30.29" fill="#2b2b2b" stroke="#2b2b2b" stroke-width="0.67" stroke-linejoin="round">ωt</text><text transform="translate(205.91,54.41) scale(0.7172,1)" font-family="Liberation Sans" font-size="31.31" fill="#2b2b2b" stroke="#2b2b2b" stroke-width="0.69" stroke-linejoin="round">)</text><text transform="translate(177.98,185.14) scale(1.0550,1)" font-family="Liberation Sans" font-size="30.36" fill="#2b2b2b" stroke="#2b2b2b" stroke-width="0.30" stroke-linejoin="round">π</text><text transform="translate(330.59,185.34) scale(1.0241,1)" font-family="Liberation Sans" font-size="30.56" fill="#2b2b2b" stroke="#2b2b2b" stroke-width="0.31" stroke-linejoin="round">2π</text><text transform="translate(444.62,185.34) scale(1.0070,1)" font-family="Liberation Sans" font-size="30.56" fill="#2b2b2b" stroke="#2b2b2b" stroke-width="0.31" stroke-linejoin="round">3π</text><text transform="translate(600.28,185.34) scale(0.9968,1)" font-family="Liberation Sans" font-size="30.99" fill="#2b2b2b" stroke="#2b2b2b" stroke-width="0.31" stroke-linejoin="round">4π</text><text transform="translate(718.61,185.34) scale(1.0040,1)" font-family="Liberation Sans" font-size="30.99" fill="#2b2b2b" stroke="#2b2b2b" stroke-width="0.31" stroke-linejoin="round">5π</text><text transform="translate(865.57,185.15) scale(1.0575,1)" font-family="Liberation Sans" font-size="30.00" fill="#2b2b2b" stroke="#2b2b2b" stroke-width="0.30" stroke-linejoin="round">6π</text><text transform="translate(976.71,160.12) scale(1.0531,1)" font-family="Liberation Sans" font-size="32.24" fill="#2b2b2b" stroke="#2b2b2b" stroke-width="0.45" stroke-linejoin="round">ωt</text><text transform="translate(977.03,395.32) scale(1.0410,1)" font-family="Liberation Sans" font-size="32.24" fill="#2b2b2b" stroke="#2b2b2b" stroke-width="0.45" stroke-linejoin="round">ωt</text><text transform="translate(977.03,522.42) scale(1.0507,1)" font-family="Liberation Sans" font-size="31.94" fill="#2b2b2b" stroke="#2b2b2b" stroke-width="0.45" stroke-linejoin="round">ωt</text><text transform="translate(976.91,753.53) scale(1.0781,1)" font-family="Liberation Sans" font-size="31.49" fill="#2b2b2b" stroke="#2b2b2b" stroke-width="0.44" stroke-linejoin="round">ωt</text><text transform="translate(32.78,288.60) scale(1.3484,1)" font-family="Liberation Sans" font-size="32.14" fill="#2b2b2b">i</text><text transform="translate(43.72,299.40) scale(1.0580,1)" font-family="Liberation Serif" font-size="27.89" fill="#2b2b2b" stroke="#2b2b2b" stroke-width="0.28" stroke-linejoin="round">g1</text><text transform="translate(32.78,426.50) scale(1.2929,1)" font-family="Liberation Sans" font-size="33.52" fill="#2b2b2b">i</text><text transform="translate(43.71,436.84) scale(1.0919,1)" font-family="Liberation Serif" font-size="27.27" fill="#2b2b2b" stroke="#2b2b2b" stroke-width="0.27" stroke-linejoin="round">g2</text><text transform="translate(8.71,603.50) scale(1.3889,1)" font-family="Liberation Sans" font-size="32.00" fill="#2b2b2b">i</text><text transform="translate(18.27,613.87) scale(1.0240,1)" font-family="Liberation Sans" font-size="26.40" fill="#2b2b2b" stroke="#2b2b2b" stroke-width="0.32" stroke-linejoin="round">Load</text><text transform="translate(78.81,603.37) scale(0.9500,1)" font-family="Liberation Sans" font-size="32.54" fill="#2b2b2b" stroke="#2b2b2b" stroke-width="0.39" stroke-linejoin="round">=</text><text transform="translate(102.62,603.50) scale(1.4389,1)" font-family="Liberation Sans" font-size="30.72" fill="#2b2b2b">I</text><text transform="translate(113.24,614.26) scale(1.0769,1)" font-family="Liberation Sans" font-size="27.27" fill="#2b2b2b" stroke="#2b2b2b" stroke-width="0.33" stroke-linejoin="round">m</text><text transform="translate(142.95,603.13) scale(1.0374,1)" font-family="Liberation Sans" font-size="31.41" fill="#2b2b2b" stroke="#2b2b2b" stroke-width="0.47" stroke-linejoin="round">sin</text><text transform="translate(186.84,602.64) scale(0.7059,1)" font-family="Liberation Sans" font-size="32.38" fill="#2b2b2b" stroke="#2b2b2b" stroke-width="0.49" stroke-linejoin="round">(</text><text transform="translate(196.49,603.23) scale(1.1050,1)" font-family="Liberation Sans" font-size="31.34" fill="#2b2b2b" stroke="#2b2b2b" stroke-width="0.47" stroke-linejoin="round">ωt</text><text transform="translate(233.03,603.04) scale(0.9766,1)" font-family="Liberation Sans" font-size="29.90" fill="#2b2b2b" stroke="#2b2b2b" stroke-width="0.45" stroke-linejoin="round">+</text><text transform="translate(251.25,604.47) scale(0.9552,1)" font-family="Liberation Sans" font-size="33.38" fill="#2b2b2b" stroke="#2b2b2b" stroke-width="0.27" stroke-linejoin="round">Φ</text><text transform="translate(278.30,602.75) scale(0.6615,1)" font-family="Liberation Sans" font-size="31.85" fill="#2b2b2b" stroke="#2b2b2b" stroke-width="0.48" stroke-linejoin="round">)</text><text transform="translate(60.74,666.33) scale(0.9605,1)" font-family="Liberation Sans" font-size="33.29" fill="#2b2b2b">Φ</text><text transform="translate(99.13,785.63) scale(0.9584,1)" font-family="Liberation Sans" font-size="33.57" fill="#2b2b2b" stroke="#2b2b2b" stroke-width="0.20" stroke-linejoin="round">Φ</text><text transform="translate(183.70,783.32) scale(0.9344,1)" font-family="Liberation Sans" font-size="27.66" fill="#2b2b2b" stroke="#2b2b2b" stroke-width="0.17" stroke-linejoin="round">π+Φ</text><text transform="translate(362.83,783.10) scale(0.8778,1)" font-family="Liberation Sans" font-size="29.72" fill="#2b2b2b" stroke="#2b2b2b" stroke-width="0.18" stroke-linejoin="round">2π+Φ</text><text transform="translate(447.49,783.10) scale(0.8744,1)" font-family="Liberation Sans" font-size="29.72" fill="#2b2b2b" stroke="#2b2b2b" stroke-width="0.18" stroke-linejoin="round">3π+Φ</text><text transform="translate(628.59,783.31) scale(0.8624,1)" font-family="Liberation Sans" font-size="29.36" fill="#2b2b2b" stroke="#2b2b2b" stroke-width="0.18" stroke-linejoin="round">4π+Φ</text><text transform="translate(726.57,783.31) scale(0.8733,1)" font-family="Liberation Sans" font-size="29.36" fill="#2b2b2b" stroke="#2b2b2b" stroke-width="0.18" stroke-linejoin="round">5π+Φ</text><text transform="translate(917.50,783.42) scale(0.9241,1)" font-family="Liberation Sans" font-size="28.03" fill="#2b2b2b" stroke="#2b2b2b" stroke-width="0.17" stroke-linejoin="round">6π+Φ</text></g>
</svg></body></html>
